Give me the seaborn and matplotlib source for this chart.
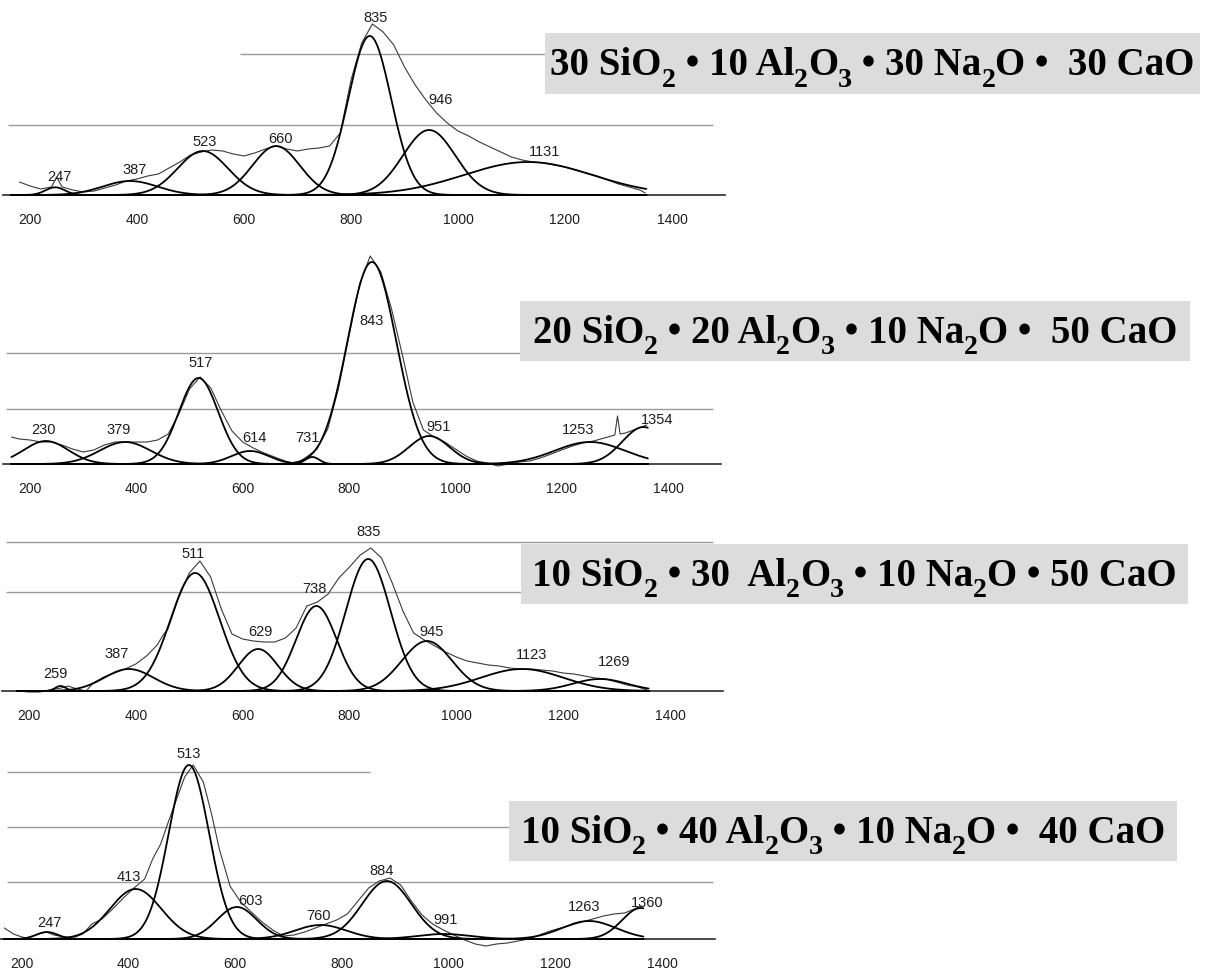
import numpy as np
import pandas as pd
import matplotlib
matplotlib.use("Agg")
import matplotlib.pyplot as plt
from matplotlib.patches import Rectangle
import seaborn as sns

sns.set_theme(style="white")
plt.rcParams["font.family"] = ["Liberation Sans", "DejaVu Sans"]

# ---------------- data ----------------
# glass compositions, written as (text, is_subscript) pieces
compositions = [
    [("30 SiO", 0), ("2", 1), (" • 10 Al", 0), ("2", 1), ("O", 0), ("3", 1),
     (" • 30 Na", 0), ("2", 1), ("O •  30 CaO", 0)],
    [("20 SiO", 0), ("2", 1), (" • 20 Al", 0), ("2", 1), ("O", 0), ("3", 1),
     (" • 10 Na", 0), ("2", 1), ("O •  50 CaO", 0)],
    [("10 SiO", 0), ("2", 1), (" • 30  Al", 0), ("2", 1), ("O", 0), ("3", 1),
     (" • 10 Na", 0), ("2", 1), ("O • 50 CaO", 0)],
    [("10 SiO", 0), ("2", 1), (" • 40 Al", 0), ("2", 1), ("O", 0), ("3", 1),
     (" • 10 Na", 0), ("2", 1), ("O •  40 CaO", 0)],
]
tick_values = [200, 400, 600, 800, 1000, 1200, 1400]

# fitted Gaussian bands: centre (cm-1), height, sigma (cm-1)
centers1 = [247, 387, 523, 660, 835, 946, 1131]
heights1 = [7.7, 14, 44, 49, 159, 65, 33]
sigmas1 = [18, 51, 47, 44, 40, 49, 120]

centers2 = [230, 379, 517, 614, 731, 843, 951, 1253, 1354]
heights2 = [23, 22, 86, 13, 7, 202, 28, 22, 37]
sigmas2 = [42, 48, 37, 35, 13, 46, 38, 66, 40]

centers3 = [259, 387, 511, 629, 738, 835, 945, 1123, 1269]
heights3 = [5, 22, 118, 42, 85, 132, 50, 22, 12]
sigmas3 = [10, 46, 46, 37, 38, 42, 47, 77, 51]

centers4 = [247, 413, 513, 603, 760, 884, 991, 1263, 1360]
heights4 = [7, 50, 174, 32, 14, 58, 5, 18, 31]
sigmas4 = [20, 48, 38, 37, 48, 46, 50, 51, 35]

# measured spectra: wavenumber, intensity
wn1 = [180, 200, 220, 240, 250, 260, 280, 300, 320, 340, 360, 380, 400, 420,
       440, 460, 480, 500, 520, 540, 560, 580, 600, 620, 640, 660, 680, 700,
       720, 740, 760, 780, 800, 820, 840, 860, 880, 900, 920, 940, 960, 980,
       1000, 1020, 1040, 1060, 1080, 1100, 1120, 1140, 1160, 1180, 1200, 1220,
       1240, 1260, 1280, 1300, 1320, 1340, 1350]
int1 = [13, 9, 6, 8, 18, 8, 5, 3, 4, 7, 10, 14, 16, 19,
        21, 27, 33, 40, 43, 45, 44, 41, 39, 42, 46, 49, 46, 44,
        46, 47, 49, 62, 115, 152, 171, 163, 150, 128, 110, 95, 82, 72,
        64, 59, 53, 48, 43, 38, 35, 33, 32, 30, 28, 25,
        22, 19, 15, 11, 8, 5, 2]

wn2 = [165, 180, 200, 220, 240, 260, 280, 300, 320, 340, 360, 380, 400, 420,
       440, 460, 480, 500, 520, 540, 560, 580, 600, 620, 640, 660, 680, 700,
       720, 740, 760, 780, 800, 820, 840, 860, 880, 900, 920, 940, 960, 980,
       1000, 1020, 1040, 1060, 1080, 1100, 1120, 1140, 1160, 1180, 1200, 1220,
       1240, 1260, 1280, 1300, 1305, 1310, 1320, 1340, 1360]
int2 = [27, 25, 24, 22, 22, 19, 15, 12, 14, 19, 22, 22, 22, 22,
        24, 30, 50, 75, 87, 76, 53, 33, 22, 16, 11, 7, 3, 0,
        7, 15, 35, 75, 128, 180, 208, 192, 155, 110, 62, 34, 27, 22,
        15, 8, 3, 1, -2, 0, 2, 3, 6, 10, 14, 18,
        21, 23, 26, 29, 48, 30, 31, 35, 39]

wn3 = [178, 200, 220, 240, 260, 273, 290, 307, 320, 340, 360, 380, 400, 420,
       440, 450, 460, 480, 500, 520, 540, 560, 580, 600, 620, 640, 660, 680,
       700, 720, 740, 760, 780, 800, 820, 840, 860, 880, 900, 920, 940, 960,
       980, 1000, 1020, 1040, 1060, 1080, 1100, 1120, 1140, 1160, 1180, 1200,
       1220, 1240, 1260, 1280, 1300, 1320, 1340, 1357]
int3 = [0, -1, -1, 1, 3, 5, 2, 0, 8, 14, 18, 22, 27, 35,
        46, 55, 62, 93, 118, 130, 114, 82, 57, 52, 50, 49, 49, 53,
        63, 85, 89, 97, 113, 124, 136, 143, 133, 108, 80, 58, 51, 45,
        39, 34, 30, 28, 26, 25, 23, 22, 22, 21, 20, 18,
        17, 15, 13, 12, 9, 6, 4, 1]

wn4 = [167, 184, 200, 210, 230, 245, 260, 280, 300, 314, 331, 350, 370, 390,
       410, 430, 445, 460, 475, 490, 505, 521, 540, 555, 570, 590, 610, 630,
       650, 670, 690, 710, 730, 750, 770, 790, 810, 830, 850, 870, 890, 910,
       930, 950, 970, 990, 1010, 1030, 1050, 1070, 1090, 1110, 1130, 1150,
       1170, 1190, 1210, 1230, 1250, 1270, 1290, 1310, 1330, 1348, 1361]
int4 = [11, 5, 2, 1, 5, 7, 4, 2, 2, 5, 15, 20, 30, 41,
        51, 60, 80, 95, 118, 140, 162, 174, 157, 126, 90, 53, 37, 27,
        17, 9, 3, 4, 7, 11, 15, 19, 25, 38, 51, 58, 61, 54,
        38, 24, 15, 9, 4, -1, -5, -7, -5, -4, -2, 0,
        4, 8, 11, 14, 17, 20, 23, 25, 26, 30, 33]

# ---------------- layout / style ----------------
W, H = 1210, 978
XL, XR = 150, 1500
YB = -14
panels = [
    dict(centers=centers1, heights=heights1, sigmas=sigmas1, wn=wn1, inten=int1,
         base=196, x200=30, x1400=672, top=190, span=(165, 1352),
         grid=[(141, 240, 713), (70, 8, 713)],
         dx=[8, 9, 4, 9, 11, 21, 30], dy=[11, 12, 10, 8, 19, 31, 11]),
    dict(centers=centers2, heights=heights2, sigmas=sigmas2, wn=wn2, inten=int2,
         base=465, x200=30, x1400=668, top=225, span=(165, 1362),
         grid=[(111, 6, 713), (55, 6, 713)],
         dx=[-4, -13, 4, 9, -9, 0, 17, -22, 26], dy=[12, 13, 16, 14, 20, -58, 10, 13, 8]),
    dict(centers=centers3, heights=heights3, sigmas=sigmas3, wn=wn3, inten=int3,
         base=692, x200=29, x1400=670, top=175, span=(178, 1360),
         grid=[(149, 6, 713), (99, 6, 713)],
         dx=[-9, -22, -4, 4, -4, 0, 9, 17, 26], dy=[13, 16, 20, 18, 18, 28, 10, 15, 18]),
    dict(centers=centers4, heights=heights4, sigmas=sigmas4, wn=wn4, inten=int4,
         base=940, x200=22, x1400=662, top=200, span=(167, 1365),
         grid=[(167, 7, 370), (112, 7, 713), (57, 7, 713)],
         dx=[4, -13, 0, 26, -4, -9, 4, -9, 13], dy=[10, 13, 12, 7, 10, 11, 15, 15, 6]),
]
boxes = [(545, 34, 1200, 95), (520, 302, 1190, 362),
         (521, 545, 1188, 605), (509, 802, 1177, 862)]
FORMULA_PT = 28
SUB_SCALE = 0.72
SUB_DROP_PT = 8.0

fig = plt.figure(figsize=(W / 100, H / 100), dpi=100)
fig.patch.set_facecolor("white")

for p in panels:
    s = (p["x1400"] - p["x200"]) / 1200.0
    left_px = p["x200"] - (200 - XL) * s
    right_px = p["x1400"] + (XR - 1400) * s
    bottom_px = p["base"] - YB
    ax = fig.add_axes([left_px / W, (H - bottom_px) / H,
                       (right_px - left_px) / W, (p["top"] - YB) / H])
    ax.set_xlim(XL, XR)
    ax.set_ylim(YB, p["top"])
    ax.patch.set_alpha(0)

    def px_to_wn(px):
        return 200 + (px - p["x200"]) / s

    # horizontal reference lines
    for level, x0, x1 in p["grid"]:
        ax.hlines(level, px_to_wn(x0), px_to_wn(x1), color="#9a9a9a", lw=1.0, zorder=1)

    # fitted Gaussian components
    xs = np.linspace(p["span"][0], p["span"][1], 700)
    frames = []
    for c, h, sg in zip(p["centers"], p["heights"], p["sigmas"]):
        frames.append(pd.DataFrame({"wn": xs,
                                    "I": h * np.exp(-(xs - c) ** 2 / (2 * sg ** 2)),
                                    "band": str(c)}))
    comp = pd.concat(frames, ignore_index=True)
    sns.lineplot(data=comp, x="wn", y="I", units="band", estimator=None,
                 color="black", lw=1.3, ax=ax, legend=False, zorder=3)

    # measured spectrum
    spec = pd.DataFrame({"wn": p["wn"], "I": p["inten"]})
    sns.lineplot(data=spec, x="wn", y="I", estimator=None, sort=False,
                 color="#3a3a3a", lw=0.8, ax=ax, legend=False, zorder=2)

    # band labels
    for c, h, ddx, ddy in zip(p["centers"], p["heights"], p["dx"], p["dy"]):
        ax.text(c + ddx, h + ddy, str(c), ha="center", va="center",
                fontsize=10.5, color="#1e1e1e", zorder=4)

    # axis styling
    for side in ("top", "left", "right"):
        ax.spines[side].set_visible(False)
    ax.spines["bottom"].set_position(("data", 0))
    ax.spines["bottom"].set_color("#2a2a2a")
    ax.spines["bottom"].set_linewidth(1.2)
    ax.set_xticks(tick_values)
    ax.set_xticklabels([str(t) for t in tick_values])
    ax.set_yticks([])
    ax.tick_params(axis="x", direction="out", length=3, width=0.8,
                   color="#333333", labelsize=10, pad=9, labelcolor="#1e1e1e")
    ax.set_xlabel("")
    ax.set_ylabel("")

# composition boxes with hand-set subscripts
renderer = fig.canvas.get_renderer()
font_kw = dict(family="Liberation Serif", weight="bold", color="black")


def text_width(txt, size):
    """Advance width in pixels, counting leading/trailing spaces."""
    probe = fig.text(0, 0, "|" + txt + "|", fontsize=size, **font_kw)
    ref = fig.text(0, 0, "||", fontsize=size, **font_kw)
    w = probe.get_window_extent(renderer).width - ref.get_window_extent(renderer).width
    probe.remove()
    ref.remove()
    return w


for (x0, y0, x1, y1), pieces in zip(boxes, compositions):
    fig.patches.append(Rectangle((x0 / W, 1 - y1 / H), (x1 - x0) / W, (y1 - y0) / H,
                                 transform=fig.transFigure, facecolor="#dcdcdc",
                                 edgecolor="none", zorder=5))
    widths = [text_width(t, FORMULA_PT * (SUB_SCALE if sub else 1)) for t, sub in pieces]
    total = sum(widths)
    cursor = (x0 + x1) / 2 - total / 2
    baseline = y0 + 0.68 * (y1 - y0)
    for (t, sub), w in zip(pieces, widths):
        size = FORMULA_PT * (SUB_SCALE if sub else 1)
        y_px = baseline + (SUB_DROP_PT * 100 / 72 if sub else 0)
        fig.text(cursor / W, 1 - y_px / H, t, fontsize=size, ha="left",
                 va="baseline", zorder=6, **font_kw)
        cursor += w

fig.savefig("out.png", dpi=100, facecolor="white")
